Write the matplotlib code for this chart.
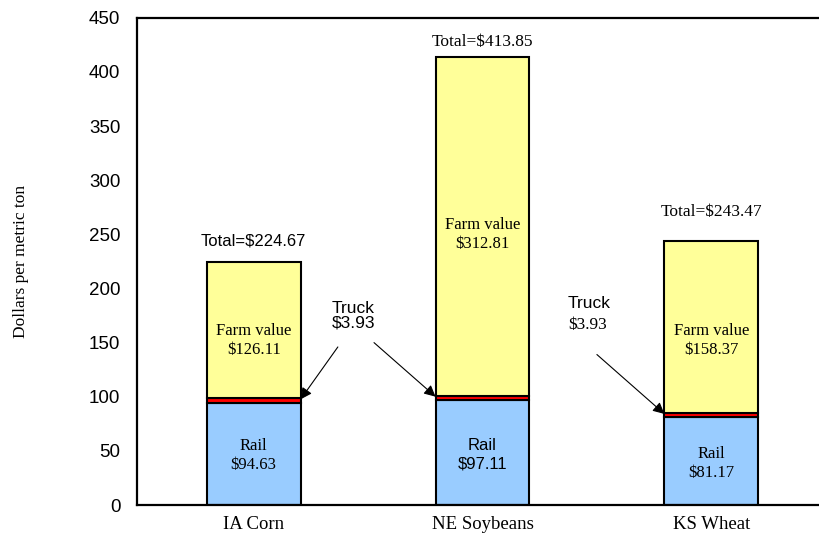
import numpy as np
import matplotlib
matplotlib.use('Agg')
import matplotlib.pyplot as plt

# 数据
crops = ['IA Corn', 'NE Soybeans', 'KS Wheat']
rail = [94.63, 97.11, 81.17]
truck = [3.93, 3.93, 3.93]
farm = [126.11, 312.81, 158.37]
totals = [224.67, 413.85, 243.47]

SANS = ['Liberation Sans', 'DejaVu Sans']
SERIF = ['Liberation Serif', 'DejaVu Serif']

c_rail = '#99CCFF'
c_truck = '#FF0000'
c_farm = '#FFFF99'

fig = plt.figure(figsize=(8.2, 5.39), dpi=100)
ax = fig.add_axes([0.167, 0.063, 0.84, 0.904])

x = np.arange(len(crops))
w = 0.41
rail = np.array(rail)
truck = np.array(truck)
farm = np.array(farm)

kw = dict(width=w, edgecolor='black', linewidth=1.5)
ax.bar(x, rail, color=c_rail, **kw)
ax.bar(x, truck, bottom=rail, color=c_truck, **kw)
ax.bar(x, farm, bottom=rail + truck, color=c_farm, **kw)

ax.set_xlim(-0.51, 2.5)
ax.set_ylim(0, 450)
ax.set_yticks(np.arange(0, 451, 50))
ax.set_xticks(x)
ax.set_xticklabels(crops, family=SERIF, fontsize=13.5)
for lab in ax.get_yticklabels():
    lab.set_family(SANS)
    lab.set_fontsize(13.5)
ax.tick_params(axis='both', length=0)
ax.tick_params(axis='y', pad=12)
ax.tick_params(axis='x', pad=8)
ax.spines['right'].set_visible(False)
for s in ['left', 'top', 'bottom']:
    ax.spines[s].set_linewidth(1.6)

ax.set_ylabel('Dollars per metric ton', family=SERIF, fontsize=12.5, labelpad=43)

# 总计标签
total_fonts = [SANS, SERIF, SERIF]
total_size = [12, 12.5, 12.5]
total_gap = [12, 6, 20]
for i in range(len(crops)):
    ax.text(x[i], totals[i] + total_gap[i], f'Total=${totals[i]:.2f}',
            ha='center', va='bottom', family=total_fonts[i], fontsize=total_size[i])

# 农场价值标签
farm_y = [152, 250, 152]
for i in range(len(crops)):
    ax.text(x[i], farm_y[i], f'Farm value\n${farm[i]:.2f}', ha='center',
            va='center', family=SERIF, fontsize=12, linespacing=1.3)

# 铁路标签
rail_fonts = [SERIF, SANS, SERIF]
for i in range(len(crops)):
    ax.text(x[i], rail[i] / 2 - 2, f'Rail\n${rail[i]:.2f}', ha='center',
            va='center', family=rail_fonts[i], fontsize=12, linespacing=1.25)

# 卡车标签和箭头
ax.text(0.342, 175, 'Truck\n$3.93', ha='left', va='center',
        family=SANS, fontsize=12.5, linespacing=1.0)
ax.text(1.373, 186, 'Truck', ha='left', va='center', family=SANS, fontsize=12.5)
ax.text(1.373, 166, '$3.93', ha='left', va='center', family=SERIF, fontsize=12.5)

ap = dict(arrowstyle='-|>', color='black', lw=0.8, mutation_scale=17,
          shrinkA=0, shrinkB=0)
truck_mid = rail + truck / 2
ax.annotate('', xy=(x[0] + w / 2, truck_mid[0] + 1), xytext=(0.368, 146), arrowprops=ap)
ax.annotate('', xy=(x[1] - w / 2, truck_mid[1] + 1), xytext=(0.526, 150), arrowprops=ap)
ax.annotate('', xy=(x[2] - w / 2, truck_mid[2] + 1), xytext=(1.5, 139), arrowprops=ap)

fig.savefig('out.png', dpi=100)
